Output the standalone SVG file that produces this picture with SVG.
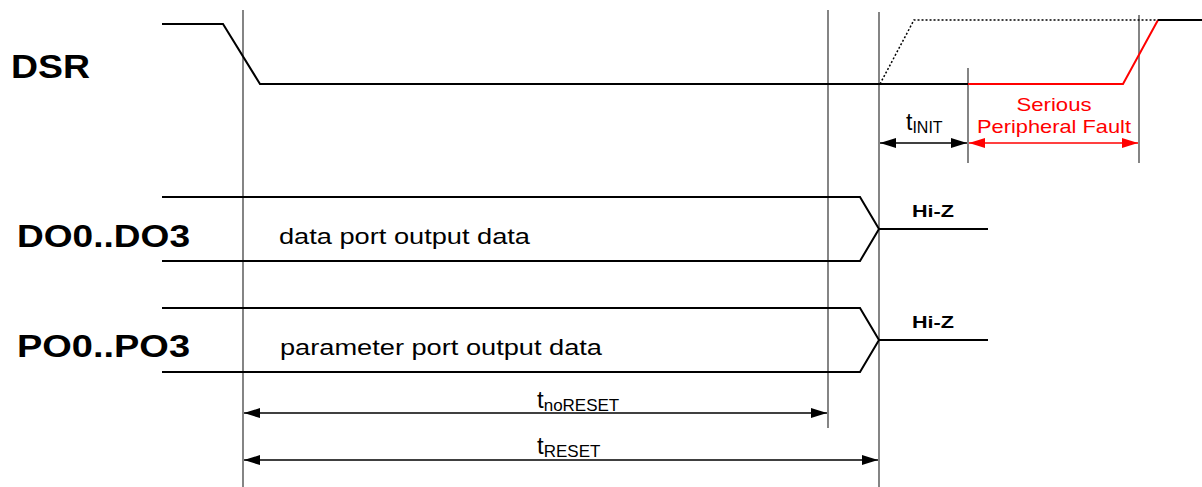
<svg xmlns="http://www.w3.org/2000/svg" width="1202" height="487" viewBox="0 0 1202 487">
<style>
.sig{fill:none;stroke:#000;stroke-width:2}
.grid{fill:none;stroke:#333;stroke-width:1.2}
.dim{fill:none;stroke:#000;stroke-width:1.5}
.lbl{font-family:"Liberation Sans",Arial,sans-serif;font-weight:bold;fill:#000}
.txt{font-family:"Liberation Sans",Arial,sans-serif;fill:#000}
.hz{font-family:"Liberation Sans",Arial,sans-serif;font-weight:bold;font-size:17px;fill:#000}
.red{fill:#f00}
</style>
<defs>
<marker id="ah" viewBox="0 0 16 10" refX="16" refY="5" markerWidth="16" markerHeight="10" markerUnits="userSpaceOnUse" orient="auto-start-reverse"><path d="M0,0 L16,5 L0,10 Z" fill="#000"/></marker>
<marker id="ahr" viewBox="0 0 16 10" refX="16" refY="5" markerWidth="16" markerHeight="10" markerUnits="userSpaceOnUse" orient="auto-start-reverse"><path d="M0,0 L16,5 L0,10 Z" fill="#f00"/></marker>
</defs>
<g id="gridlines">
<line class="grid" x1="243" y1="10" x2="243" y2="487"/>
<line class="grid" x1="828" y1="10" x2="828" y2="428"/>
<line class="grid" x1="879" y1="12" x2="879" y2="487"/>
<line class="grid" x1="968" y1="68" x2="968" y2="163"/>
<line class="grid" x1="1139" y1="15" x2="1139" y2="163"/>
</g>
<g id="DSR">
<text class="lbl" x="11" y="78" font-size="34" textLength="79" lengthAdjust="spacingAndGlyphs">DSR</text>
<polyline class="sig" points="162,24 223,24 260,84 968,84"/>
<polyline fill="none" stroke="#f00" stroke-width="2" points="968,84 1123,84 1158,20"/>
<line class="sig" x1="1158" y1="20" x2="1202" y2="20"/>
<polyline fill="none" stroke="#000" stroke-width="1.5" stroke-dasharray="2,2" points="880,84 914,20 1158,20"/>
</g>
<g id="DO">
<text class="lbl" x="17" y="247" font-size="31" textLength="173" lengthAdjust="spacingAndGlyphs">DO0..DO3</text>
<polyline class="sig" points="162,197 860,197 879,229 860,261 162,261"/>
<line class="sig" x1="879" y1="229" x2="988" y2="229"/>
<text class="txt" x="279" y="244" font-size="22" textLength="251" lengthAdjust="spacingAndGlyphs">data port output data</text>
<text class="hz" x="912" y="217" textLength="42" lengthAdjust="spacingAndGlyphs">Hi-Z</text>
</g>
<g id="PO">
<text class="lbl" x="17" y="357" font-size="31" textLength="173" lengthAdjust="spacingAndGlyphs">PO0..PO3</text>
<polyline class="sig" points="162,308 860,308 879,340 860,372 162,372"/>
<line class="sig" x1="879" y1="340" x2="988" y2="340"/>
<text class="txt" x="280" y="355" font-size="22" textLength="322" lengthAdjust="spacingAndGlyphs">parameter port output data</text>
<text class="hz" x="912" y="328" textLength="42" lengthAdjust="spacingAndGlyphs">Hi-Z</text>
</g>
<g id="connectors">
<line class="dim" x1="880" y1="143" x2="967" y2="143" marker-start="url(#ah)" marker-end="url(#ah)"/>
<line fill="none" stroke="#f00" stroke-width="1.5" x1="969" y1="143" x2="1138" y2="143" marker-start="url(#ahr)" marker-end="url(#ahr)"/>
<line class="dim" x1="244" y1="413" x2="827" y2="413" marker-start="url(#ah)" marker-end="url(#ah)"/>
<line class="dim" x1="244" y1="460" x2="878" y2="460" marker-start="url(#ah)" marker-end="url(#ah)"/>
</g>
<g id="timing-labels">
<text class="txt" x="906" y="130" font-size="23">t<tspan font-size="16" dy="3">INIT</tspan></text>
<text class="txt red" x="1054" y="111" font-size="19" text-anchor="middle" textLength="75" lengthAdjust="spacingAndGlyphs">Serious</text>
<text class="txt red" x="977" y="133" font-size="19" textLength="154" lengthAdjust="spacingAndGlyphs">Peripheral Fault</text>
<text class="txt" x="537" y="408" font-size="24">t<tspan font-size="17" dy="3">noRESET</tspan></text>
<text class="txt" x="537" y="454" font-size="24">t<tspan font-size="17" dy="3">RESET</tspan></text>
</g>
</svg>
